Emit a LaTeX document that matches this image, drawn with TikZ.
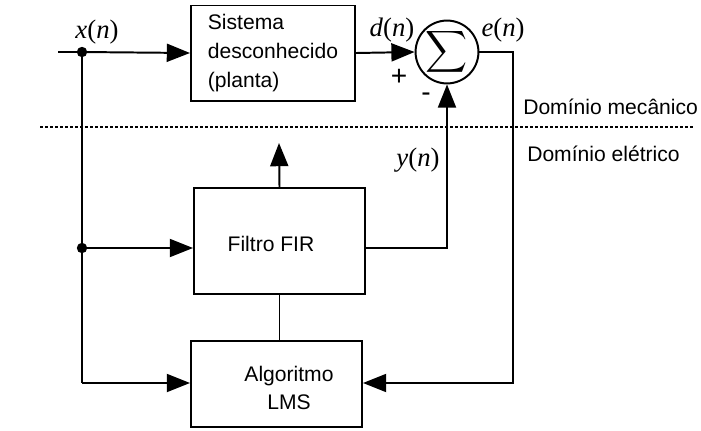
\documentclass[tikz,border=0pt]{standalone}
\usepackage{fontspec}
\usepackage{amsmath}
\setmainfont{Liberation Sans}
\newfontfamily\tnr{Liberation Serif}
\usetikzlibrary{arrows.meta}

\newcommand{\sinal}[1]{{\tnr\textit{#1}(\textit{n})}}

\tikzset{
	bloco/.style={draw, line width=1.4pt, align=left, inner sep=0pt},
	seta/.style={-{Triangle[length=0.58cm,width=0.45cm]}, line width=1.4pt},
	linha/.style={line width=1.4pt},
	ponto/.style={circle, fill, inner sep=0pt, minimum size=0.26cm},
	rotulo/.style={font=\fontsize{19}{19}\selectfont},
}

\begin{document}
\begin{tikzpicture}[x=0.025cm, y=-0.025cm, font=\fontsize{15}{20.5}\selectfont]
	\useasboundingbox (0,0) rectangle (701,430);

	% blocos
	\node[bloco, minimum width=4.1cm, minimum height=2.375cm] (planta) at (273,53)
		{Sistema\\desconhecido\\(planta)};
	\node[draw, circle, line width=1.4pt, minimum size=1.35cm, inner sep=0pt] (soma) at (447,52)
		{\fontsize{20}{20}\selectfont$\displaystyle\sum$};
	\node[bloco, minimum width=4.275cm, minimum height=2.65cm] (fir) at (279.5,241) {};
	\node (firtxt) at (271,244) {Filtro FIR};
	\node[bloco, minimum width=4.275cm, minimum height=2.15cm] (lms) at (276.5,384) {};
	\node[align=center] (lmstxt) at (289,388) {Algoritmo\\LMS};

	% pontos de derivacao
	\coordinate (in) at (58,52);
	\node[ponto] (p1) at (82,52) {};
	\node[ponto] (p2) at (82,248) {};
	\coordinate (p3) at (82,383);
	\coordinate (ecanto) at (513,52);
	\coordinate (adapt) at (279,143);

	% ligacoes
	\draw[linha] (in) -- (p1.center);
	\draw[seta] (p1.center) -- (planta.west);
	\draw[seta] (planta.east) -- (soma.west);
	\draw[linha] (p1.center) -- (p3);
	\draw[seta] (p2.center) -- (p2.center -| fir.west);
	\draw[seta] (p3) -- (p3 -| lms.west);
	\draw[seta] (p2.center -| fir.east) -| (soma.south);
	\draw[seta] (soma.east) -- (ecanto) |- (p3 -| lms.east);
	\draw[linha] (fir.south) -- (fir.south |- lms.north);
	\draw[seta] (fir.north) -- (adapt);

	% fronteira
	\coordinate (fe) at (40,127);
	\coordinate (fd) at (693,127);
	\draw[line width=1.8pt, dash pattern=on 0.075cm off 0.05cm] (fe) -- (fd);

	% rotulos
	\node[rotulo] (xn) at (97,32) {\sinal{x}};
	\node[rotulo] (dn) at (392,30) {\sinal{d}};
	\node[rotulo] (en) at (503,30) {\sinal{e}};
	\node[rotulo] (yn) at (418,160) {\sinal{y}};
	\node[font=\fontsize{20}{20}\selectfont] (mais) at (399,77) {+};
	\node[font=\fontsize{20}{20}\selectfont] (menos) at (426,97) {-};
	\node[anchor=west, inner sep=0pt] (mec) at (523,107) {Domínio mecânico};
	\node[anchor=west, inner sep=0pt] (ele) at (527,154) {Domínio elétrico};
\end{tikzpicture}
\end{document}
